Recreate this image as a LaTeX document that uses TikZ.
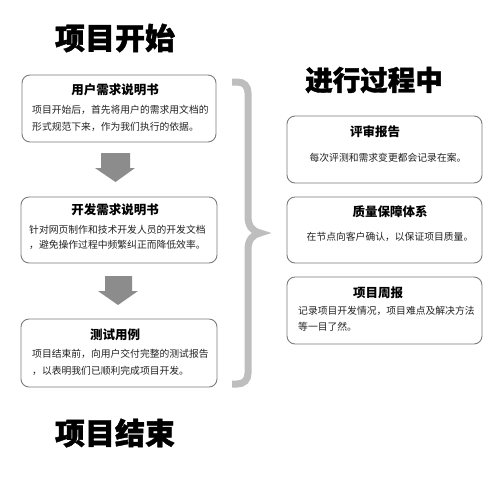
\documentclass[tikz,border=0pt]{standalone}
\usepackage{fontspec}
\setmainfont{Noto Sans CJK SC}
\newfontfamily\heavycjk[FakeBold=1.4]{Noto Sans CJK SC}
\definecolor{boxgray}{HTML}{7C7C7C}
\definecolor{arrowgray}{HTML}{8C8C8C}
\definecolor{bracegray}{HTML}{BEBEBE}
\definecolor{textgray}{HTML}{222222}
\tikzset{
  box/.style={draw=boxgray, line width=0.9pt, rounded corners=8pt, fill=white, inner sep=0},
  ttl/.style={font=\fontsize{12.5}{14}\selectfont\bfseries, text=black, inner sep=0},
  body/.style={font=\fontsize{9.8}{#1}\selectfont, text=textgray, align=left, inner sep=0, anchor=west},
  line1/.style={font=\fontsize{9.8}{12}\selectfont, text=textgray, inner sep=0},
  big/.style={font=\fontsize{#1}{#1}\selectfont\heavycjk\bfseries, text=black, inner sep=0},
  brc/.style={draw=bracegray, line width=7pt, line join=miter},
  arr/.style={fill=arrowgray}
}
\begin{document}
\begin{tikzpicture}[x=1pt,y=-1pt]
\useasboundingbox[fill=white] (0,0) rectangle (500,483);

% big titles
\node[big=30] (start) at (115,38) {项目开始};
\node[big=30] (finish) at (115,433) {项目结束};
\node[big=27.5] (proc) at (374,80) {进行过程中};

% left boxes
\node[box, minimum width=194pt, minimum height=67pt] (b1) at (119,108.5) {};
\node[ttl] (t1) at (115,90) {用户需求说明书};
\node[body=17] (d1) at (32,118.5) {项目开始后，首先将用户的需求用文档的\\形式规范下来，作为我们执行的依据。};

\node[box, minimum width=196pt, minimum height=66pt] (b2) at (119,230) {};
\node[ttl] (t2) at (115,210) {开发需求说明书};
\node[body=15] (d2) at (29,237.5) {针对网页制作和技术开发人员的开发文档\\，避免操作过程中频繁纠正而降低效率。};

\node[box, minimum width=196pt, minimum height=68pt] (b3) at (119,353) {};
\node[ttl] (t3) at (115,335) {测试用例};
\node[body=17] (d3) at (32,362.5) {项目结束前，向用户交付完整的测试报告\\，以表明我们已顺利完成项目开发。};

% arrows
\fill[arr] (101,153) -- (130,153) -- (130,168) -- (135,168) -- (115.5,182) -- (95,168) -- (101,168) -- cycle;
\fill[arr] (105,276) -- (132,276) -- (132,291) -- (138,291) -- (118,305) -- (98,291) -- (105,291) -- cycle;

% brace
\draw[brc] (232,82) -- (237,82) .. controls (244,82) and (248,86) .. (248,93) -- (248,216)
  .. controls (248,226) and (252,231) .. (260,233)
  .. controls (252,235) and (248,240) .. (248,250) -- (248,373)
  .. controls (248,380) and (244,384) .. (237,384) -- (232,384);

% right boxes
\node[box, minimum width=195pt, minimum height=67pt] (r1) at (384.5,149.5) {};
\node[ttl] (rt1) at (375,132) {评审报告};
\node[line1] (rd1) at (388,158) {每次评测和需求变更都会记录在案。};

\node[box, minimum width=195pt, minimum height=66pt] (r2) at (384.5,230) {};
\node[ttl] (rt2) at (390,212) {质量保障体系};
\node[line1] (rd2) at (390,237) {在节点向客户确认，以保证项目质量。};

\node[box, minimum width=195pt, minimum height=67pt] (r3) at (384.5,310.5) {};
\node[ttl] (rt3) at (378,293) {项目周报};
\node[body=16] (rd3) at (298,319) {记录项目开发情况，项目难点及解决方法\\等一目了然。};
\end{tikzpicture}
\end{document}
